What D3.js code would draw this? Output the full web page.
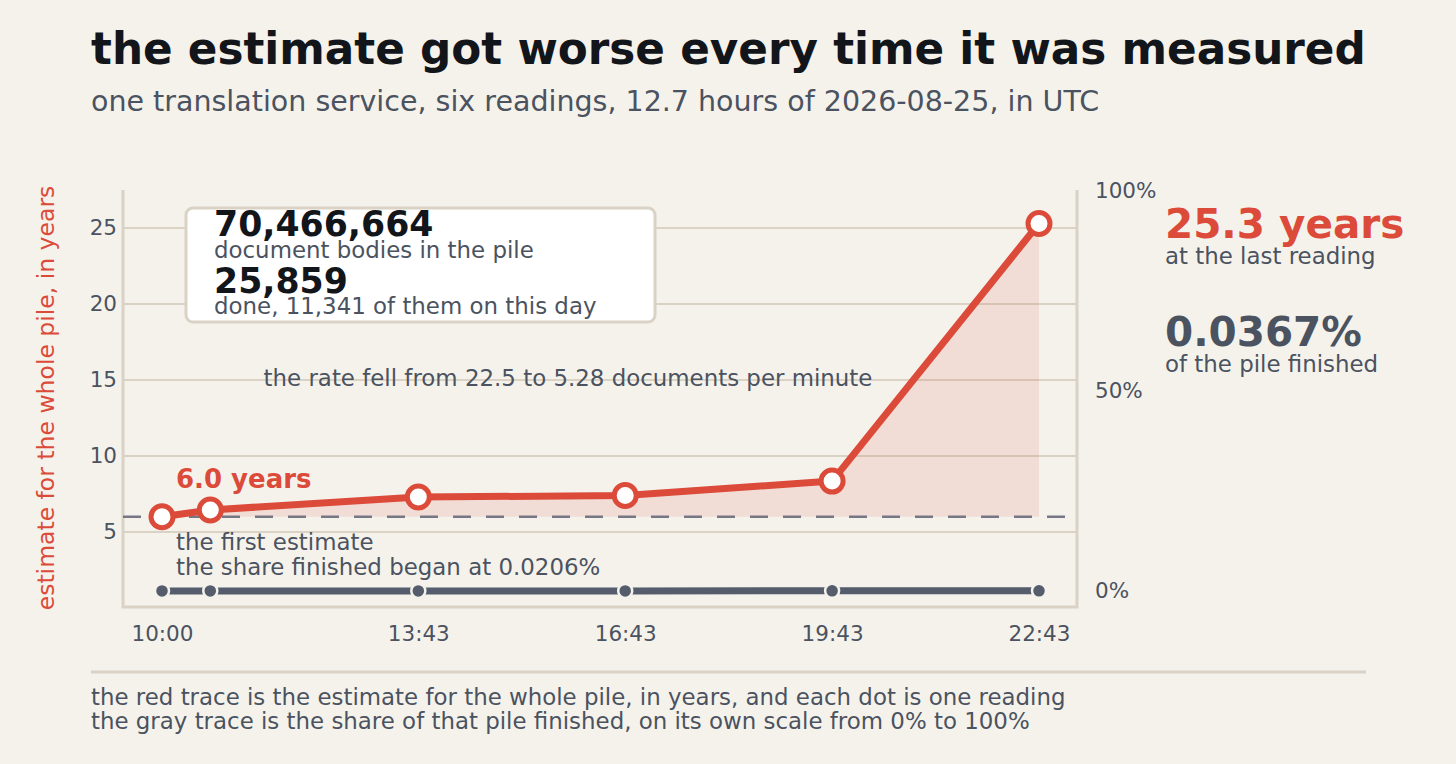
<!DOCTYPE html>
<html>
<head>
<meta charset="utf-8">
<script src="https://cdn.jsdelivr.net/npm/d3@7"></script>
<style>
  html, body { margin: 0; padding: 0; background: #f5f2ec; }
  svg { display: block; font-family: "DejaVu Sans", sans-serif; }
</style>
</head>
<body>
<svg id="chart" width="1456" height="764"></svg>
<script>
// readings, UTC, 2026-08-25
const readingTimes = ["10:00", "10:42", "13:43", "16:43", "19:43", "22:43"];
const estimateYears = [6.0, 6.45, 7.3, 7.4, 8.35, 25.3];
const shareFinished = [0.000206, 0.000214, 0.000270, 0.000310, 0.000342, 0.000367];
const xTickLabels = ["10:00", "13:43", "16:43", "19:43", "22:43"];
const yTicks = [5, 10, 15, 20, 25];
const shareTicks = [0, 0.5, 1];

const RED = "#dc4b3a";
const INK = "#12151a";
const GRAY = "#4b5260";
const RULE = "#d9d2c5";

const svg = d3.select("#chart");
const parse = d3.utcParse("%Y-%m-%d %H:%M");
const data = readingTimes.map((t, i) => ({
  t: parse("2026-08-25 " + t),
  years: estimateYears[i],
  share: shareFinished[i]
}));

const frame = { left: 123, right: 1077, top: 190, bottom: 607 };

const x = d3.scaleUtc()
  .domain([parse("2026-08-25 10:00"), parse("2026-08-25 22:43")])
  .range([162, 1039]);
const y = d3.scaleLinear().domain([0, 27.5]).range([608, 190]);
const yShare = d3.scaleLinear().domain([0, 1]).range([591, 191]);

// title block
svg.append("text")
  .attr("x", 91).attr("y", 64)
  .attr("font-size", 43.7).attr("font-weight", "bold").attr("fill", INK)
  .text("the estimate got worse every time it was measured");
svg.append("text")
  .attr("x", 91).attr("y", 111)
  .attr("font-size", 28.5).attr("fill", GRAY)
  .text("one translation service, six readings, 12.7 hours of 2026-08-25, in UTC");

// gridlines
svg.append("g")
  .selectAll("line")
  .data(yTicks)
  .enter().append("line")
  .attr("x1", frame.left).attr("x2", frame.right)
  .attr("y1", d => y(d)).attr("y2", d => y(d))
  .attr("stroke", RULE).attr("stroke-width", 2);

// frame: left, bottom, right
svg.append("path")
  .attr("d", `M${frame.left},${frame.top}V${frame.bottom}H${frame.right}V${frame.top}`)
  .attr("fill", "none").attr("stroke", RULE).attr("stroke-width", 3);

// left axis
const yAxis = svg.append("g")
  .attr("transform", `translate(${frame.left},0)`)
  .call(d3.axisLeft(y).tickValues(yTicks).tickSize(0).tickPadding(6));
yAxis.select(".domain").remove();
yAxis.selectAll("text").attr("font-size", 21.5).attr("fill", GRAY).attr("font-family", "DejaVu Sans");

svg.append("text")
  .attr("transform", "translate(54,398) rotate(-90)")
  .attr("text-anchor", "middle")
  .attr("font-size", 23.5).attr("fill", RED)
  .text("estimate for the whole pile, in years");

// right axis
const rAxis = svg.append("g")
  .attr("transform", `translate(${frame.right},0)`)
  .call(d3.axisRight(yShare).tickValues(shareTicks).tickFormat(d3.format(".0%")).tickSize(0).tickPadding(18));
rAxis.select(".domain").remove();
rAxis.selectAll("text").attr("font-size", 21.5).attr("fill", GRAY).attr("font-family", "DejaVu Sans");

// bottom axis
const xAxis = svg.append("g")
  .attr("transform", `translate(0,${frame.bottom})`)
  .call(d3.axisBottom(x)
    .tickValues(xTickLabels.map(t => parse("2026-08-25 " + t)))
    .tickFormat(d3.utcFormat("%H:%M"))
    .tickSize(0).tickPadding(19));
xAxis.select(".domain").remove();
xAxis.selectAll("text").attr("font-size", 21.5).attr("fill", GRAY).attr("font-family", "DejaVu Sans");

// shaded area between first estimate and the trace
const base = estimateYears[0];
svg.append("path")
  .datum(data)
  .attr("d", d3.area().x(d => x(d.t)).y0(y(base)).y1(d => y(d.years)))
  .attr("fill", RED).attr("fill-opacity", 0.12);

// first estimate reference line
svg.append("line")
  .attr("x1", frame.left).attr("x2", frame.right)
  .attr("y1", y(base)).attr("y2", y(base))
  .attr("stroke", "#767684").attr("stroke-width", 2.5)
  .attr("stroke-dasharray", "18,15");

// share finished trace
svg.append("path")
  .datum(data)
  .attr("d", d3.line().x(d => x(d.t)).y(d => yShare(d.share)))
  .attr("fill", "none").attr("stroke", "#555c6b").attr("stroke-width", 7);
svg.append("g")
  .selectAll("circle")
  .data(data)
  .enter().append("circle")
  .attr("cx", d => x(d.t)).attr("cy", d => yShare(d.share))
  .attr("r", 7)
  .attr("fill", "#555c6b").attr("stroke", "#f5f2ec").attr("stroke-width", 2.5);

// estimate trace
svg.append("path")
  .datum(data)
  .attr("d", d3.line().x(d => x(d.t)).y(d => y(d.years)))
  .attr("fill", "none").attr("stroke", RED).attr("stroke-width", 7)
  .attr("stroke-linejoin", "round");
svg.append("g")
  .selectAll("circle")
  .data(data)
  .enter().append("circle")
  .attr("cx", d => x(d.t)).attr("cy", d => y(d.years))
  .attr("r", 11)
  .attr("fill", "white").attr("stroke", RED).attr("stroke-width", 5);

// annotations in the plot
svg.append("text")
  .attr("x", 176).attr("y", 488)
  .attr("font-size", 26).attr("font-weight", "bold").attr("fill", RED)
  .text("6.0 years");
svg.append("text")
  .attr("x", 176).attr("y", 550)
  .attr("font-size", 22.9).attr("fill", GRAY)
  .text("the first estimate");
svg.append("text")
  .attr("x", 176).attr("y", 575)
  .attr("font-size", 22.9).attr("fill", GRAY)
  .text("the share finished began at 0.0206%");
svg.append("text")
  .attr("x", 568).attr("y", 386)
  .attr("text-anchor", "middle")
  .attr("font-size", 22.9).attr("fill", GRAY)
  .text("the rate fell from 22.5 to 5.28 documents per minute");

// counts box
svg.append("rect")
  .attr("x", 186).attr("y", 208).attr("width", 469).attr("height", 114)
  .attr("rx", 7).attr("fill", "white")
  .attr("stroke", RULE).attr("stroke-width", 3);
svg.append("text")
  .attr("x", 214).attr("y", 236)
  .attr("font-size", 34.7).attr("font-weight", "bold").attr("fill", INK)
  .text("70,466,664");
svg.append("text")
  .attr("x", 214).attr("y", 258)
  .attr("font-size", 22.9).attr("fill", GRAY)
  .text("document bodies in the pile");
svg.append("text")
  .attr("x", 214).attr("y", 293)
  .attr("font-size", 34.7).attr("font-weight", "bold").attr("fill", INK)
  .text("25,859");
svg.append("text")
  .attr("x", 214).attr("y", 314)
  .attr("font-size", 22.9).attr("fill", GRAY)
  .text("done, 11,341 of them on this day");

// right-hand callouts
svg.append("text")
  .attr("x", 1165).attr("y", 238)
  .attr("font-size", 40.5).attr("font-weight", "bold").attr("fill", RED)
  .text("25.3 years");
svg.append("text")
  .attr("x", 1165).attr("y", 264)
  .attr("font-size", 22.9).attr("fill", GRAY)
  .text("at the last reading");
svg.append("text")
  .attr("x", 1165).attr("y", 346)
  .attr("font-size", 40.5).attr("font-weight", "bold").attr("fill", GRAY)
  .text("0.0367%");
svg.append("text")
  .attr("x", 1165).attr("y", 372)
  .attr("font-size", 22.9).attr("fill", GRAY)
  .text("of the pile finished");

// footer
svg.append("line")
  .attr("x1", 91).attr("x2", 1366)
  .attr("y1", 672).attr("y2", 672)
  .attr("stroke", RULE).attr("stroke-width", 3);
svg.append("text")
  .attr("x", 91).attr("y", 705)
  .attr("font-size", 22.9).attr("fill", GRAY)
  .text("the red trace is the estimate for the whole pile, in years, and each dot is one reading");
svg.append("text")
  .attr("x", 91).attr("y", 729)
  .attr("font-size", 22.9).attr("fill", GRAY)
  .text("the gray trace is the share of that pile finished, on its own scale from 0% to 100%");
</script>
</body>
</html>
